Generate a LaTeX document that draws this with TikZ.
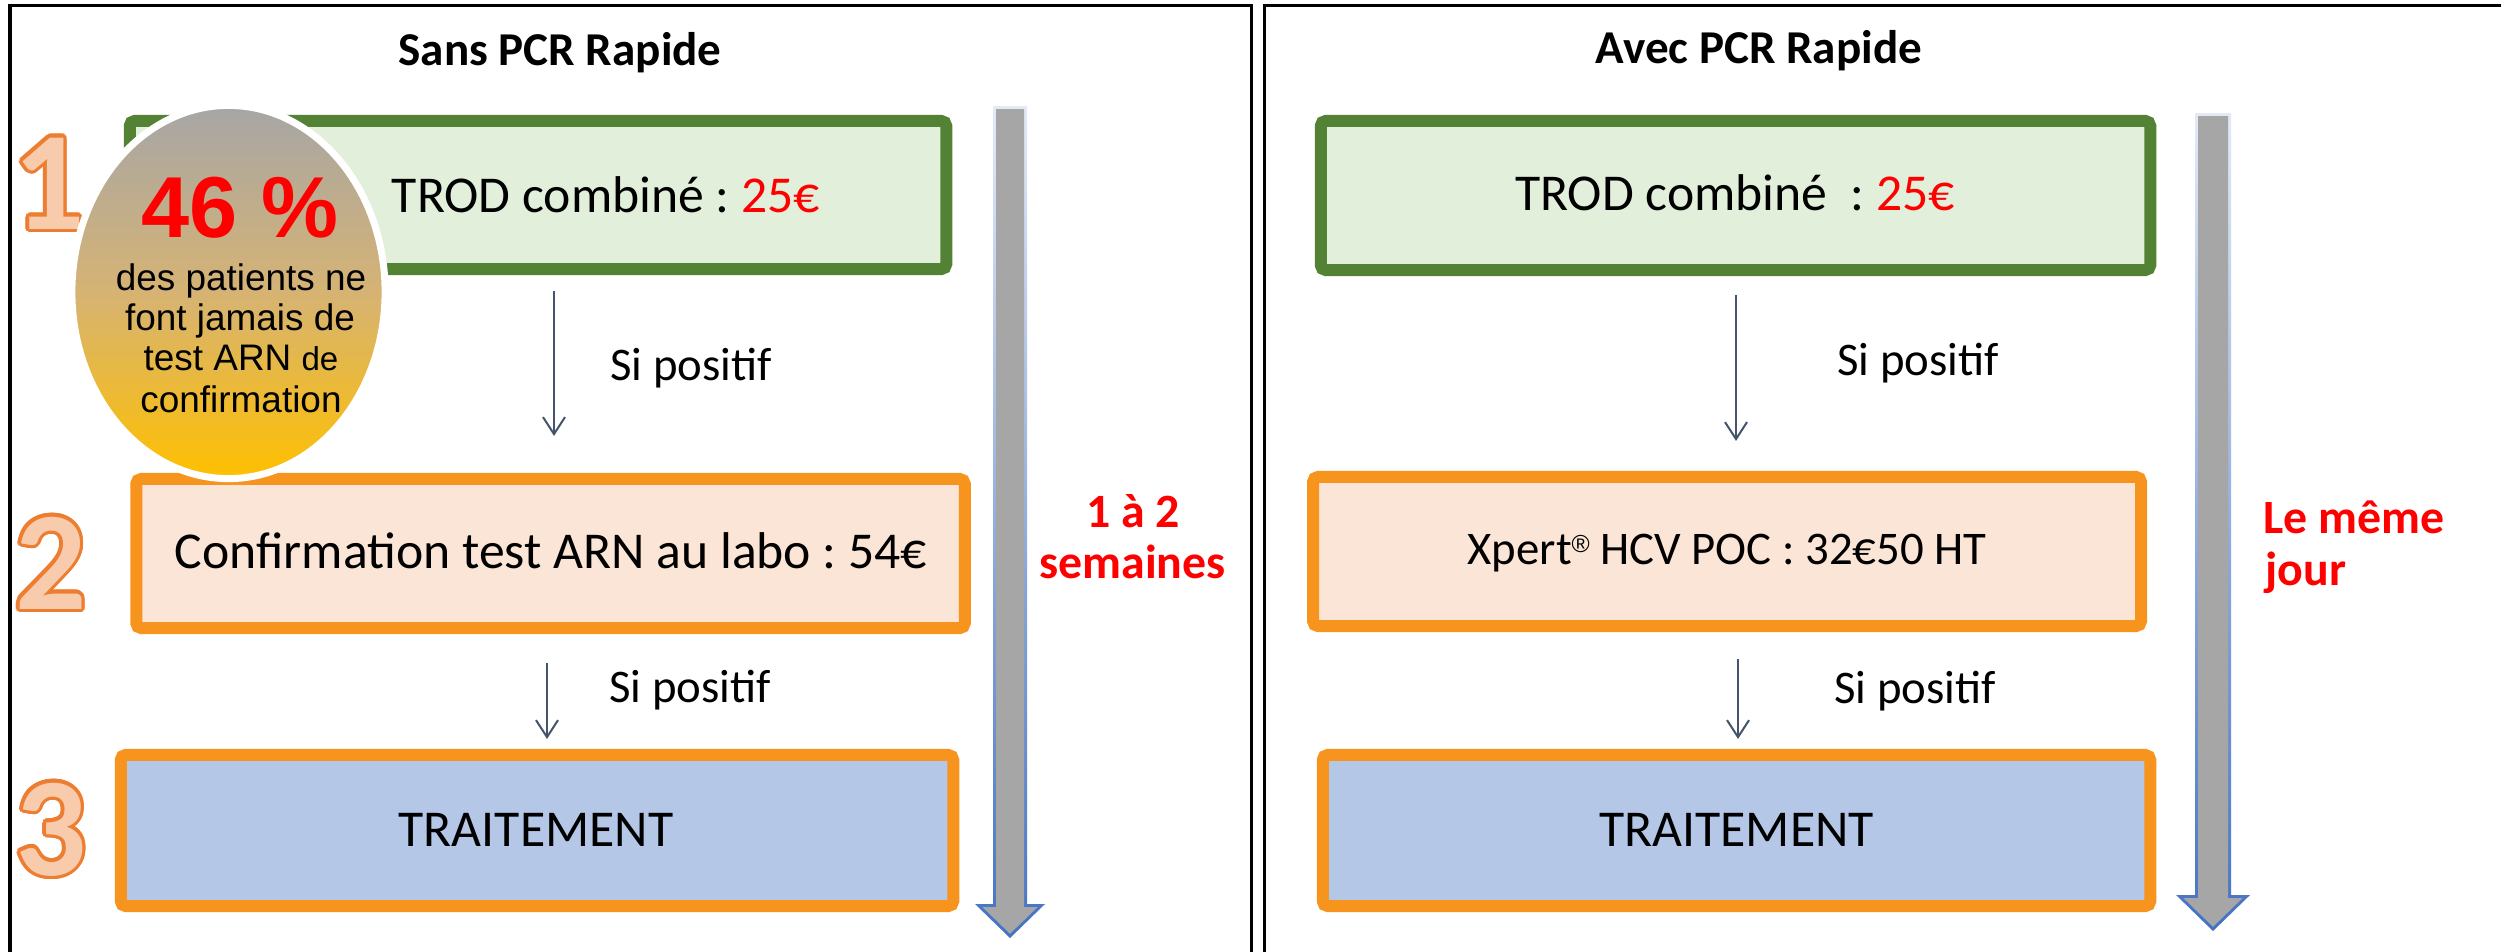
\documentclass[tikz,border=0pt]{standalone}
\usepackage{fontspec}
\setmainfont{Carlito}
\newfontfamily\arialf{Liberation Sans}
\usetikzlibrary{arrows.meta,calc}
\frenchspacing
\definecolor{grnline}{HTML}{548235}
\definecolor{grnfill}{HTML}{E2EFDA}
\definecolor{orline}{HTML}{F7941D}
\definecolor{orfill}{HTML}{FBE5D6}
\definecolor{bluefill}{HTML}{B4C7E7}
\definecolor{conncol}{HTML}{44546A}
\definecolor{arrgray}{HTML}{A6A6A6}
\definecolor{arrblue}{HTML}{4472C4}
\definecolor{arrlight}{HTML}{E3EAF6}
\definecolor{numline}{HTML}{ED7D31}
\definecolor{numfill}{HTML}{F8CBAD}
\definecolor{redtxt}{HTML}{FF0000}
\definecolor{elltop}{HTML}{A6A6A6}
\definecolor{ellmid}{HTML}{D6B374}
\definecolor{ellbot}{HTML}{FFC000}
\tikzset{
  frame/.style={draw=black, line width=0.03cm},
  boxbase/.style={rectangle, line width=0.12cm, rounded corners=0.05cm, inner sep=0},
  greenbox/.style={boxbase, draw=grnline, fill=grnfill},
  orangebox/.style={boxbase, draw=orline, fill=orfill},
  bluebox/.style={boxbase, draw=orline, fill=bluefill},
  boxtext/.style={inner sep=0, anchor=base, font=\fontsize{14.7pt}{17pt}\selectfont},
  smallboxtext/.style={inner sep=0, anchor=base, font=\fontsize{13.3pt}{16pt}\selectfont},
  sitext/.style={inner sep=0, anchor=base, font=\fontsize{13.3pt}{16pt}\selectfont},
  title/.style={inner sep=0, anchor=base, font=\bfseries\fontsize{13.4pt}{16pt}\selectfont},
  redlabel/.style={inner sep=0, anchor=base, text=redtxt, font=\bfseries\fontsize{13.6pt}{16pt}\selectfont},
  digit/.style={inner sep=0, anchor=base, font=\bfseries\fontsize{40pt}{48pt}\selectfont},
  elltext/.style={inner sep=0, anchor=base, font=\arialf\fontsize{10.5pt}{12pt}\selectfont},
  conn/.style={draw=conncol, line width=0.02cm, -{Straight Barb[length=0.17cm,width=0.22cm]}},
}
\newcommand\numdigit[3]{%
  \foreach \a in {0,22.5,...,337.5}
    \node[digit,text=numline] at ($(#2)+(\a:0.035cm)$) {#3};
  \node[digit,text=numfill] (#1) at (#2) {#3};}
\newcommand\regmark{\raisebox{3.4pt}{\arialf\fontsize{7pt}{7pt}\selectfont ®}}
\begin{document}
\begin{tikzpicture}[x=0.01cm, y=-0.01cm]
\useasboundingbox (0,0) rectangle (2501,951);
\clip (0,0) rectangle (2501,951);
\fill[white] (0,0) rectangle (2501,951);
% frames
\draw[frame] (10,5.5) rectangle (1251.5,1100);
\draw[frame] (1264.5,5.5) rectangle (2700,1100);
% titles
\node[title] (tL) at (560,65) {Sans PCR Rapide};
\node[title] (tR) at (1759,63) {Avec PCR Rapide};
% left boxes
\node[greenbox, minimum width=8.16cm, minimum height=1.48cm] (L1) at (538,195) {};
\node[orangebox, minimum width=8.28cm, minimum height=1.49cm] (L2) at (550.5,553.5) {};
\node[bluebox, minimum width=8.32cm, minimum height=1.51cm] (L3) at (537,830.5) {};
% right boxes
\node[greenbox, minimum width=8.29cm, minimum height=1.49cm] (R1) at (1735.5,195.5) {};
\node[orangebox, minimum width=8.275cm, minimum height=1.49cm] (R2) at (1727,551.5) {};
\node[bluebox, minimum width=8.27cm, minimum height=1.51cm] (R3) at (1736.5,830.5) {};
% box texts
\node[boxtext] (L1t) at (606,212) {TROD combiné : \textcolor{redtxt}{25€}};
\node[boxtext] (L2t) at (551,568) {Confirmation test ARN au labo : 54€};
\node[boxtext] (L3t) at (536,846) {TRAITEMENT};
\node[boxtext] (R1t) at (1735,210) {TROD combiné\ \ : \textcolor{redtxt}{25€}};
\node[smallboxtext] (R2t) at (1727,564) {Xpert\regmark{} HCV POC : 32€50 HT};
\node[boxtext] (R3t) at (1736.5,846) {TRAITEMENT};
% connectors
\coordinate (xL1) at (554,0);
\coordinate (xL2) at (547,0);
\coordinate (xR1) at (1736,0);
\coordinate (xR2) at (1738,0);
\draw[conn, shorten <=0.16cm, shorten >=0.37cm] (L1.south -| xL1) -- (L2.north -| xL1);
\draw[conn, shorten <=0.29cm, shorten >=0.10cm] (L2.south -| xL2) -- (L3.north -| xL2);
\draw[conn, shorten <=0.19cm, shorten >=0.30cm] (R1.south -| xR1) -- (R2.north -| xR1);
\draw[conn, shorten <=0.27cm, shorten >=0.10cm] (R2.south -| xR2) -- (R3.north -| xR2);
\node[sitext] (sL1) at (691,380) {Si positif};
\node[sitext] (sL2) at (690,702) {Si positif};
\node[sitext] (sR1) at (1918,375) {Si positif};
\node[sitext] (sR2) at (1915,703) {Si positif};
% step numbers
\numdigit{n1}{49,229}{1}
\numdigit{n2}{51,609}{2}
\numdigit{n3}{51,875}{3}
% big time arrows
\shade[top color=arrlight, bottom color=arrblue]
  (993,106) -- (1027,106) -- (1027,904) -- (1045,904) -- (1010,938) -- (975,904) -- (993,904) -- cycle;
\fill[arrgray]
  (996,109) -- (1024,109) -- (1024,907) -- (1037.6,907) -- (1010,933.8) -- (982.4,907) -- (996,907) -- cycle;
\shade[top color=arrlight, bottom color=arrblue]
  (2195,113) -- (2231,113) -- (2231,895) -- (2250,895) -- (2213,931) -- (2176,895) -- (2195,895) -- cycle;
\fill[arrgray]
  (2198,116) -- (2228,116) -- (2228,898) -- (2242.6,898) -- (2213,926.8) -- (2183.4,898) -- (2198,898) -- cycle;
% duration labels
\node[redlabel] (w1) at (1133,527) {1 à 2};
\node[redlabel] (w2) at (1132.5,578) {semaines};
\node[redlabel, anchor=base west] (j1) at (2263,533) {Le même};
\node[redlabel, anchor=base west] (j2) at (2265,585) {jour};
% statistic bubble
\shadedraw[top color=elltop, bottom color=ellbot, middle color=ellmid, draw=white, line width=0.07cm]
  (228.5,292) ellipse [x radius=1.565cm, y radius=1.865cm];
\node[inner sep=0, anchor=base, text=redtxt, font=\arialf\bfseries\fontsize{24.6pt}{28pt}\selectfont] (pct) at (240,237) {46 \%};
\node[elltext] (e1) at (241,290) {des patients ne};
\node[elltext] (e2) at (240,330) {font jamais de};
\node[elltext] (e3) at (241,370) {test ARN {\fontsize{9.4pt}{11pt}\selectfont de}};
\node[elltext] (e4) at (241,412) {confirmation};
\end{tikzpicture}
\end{document}
